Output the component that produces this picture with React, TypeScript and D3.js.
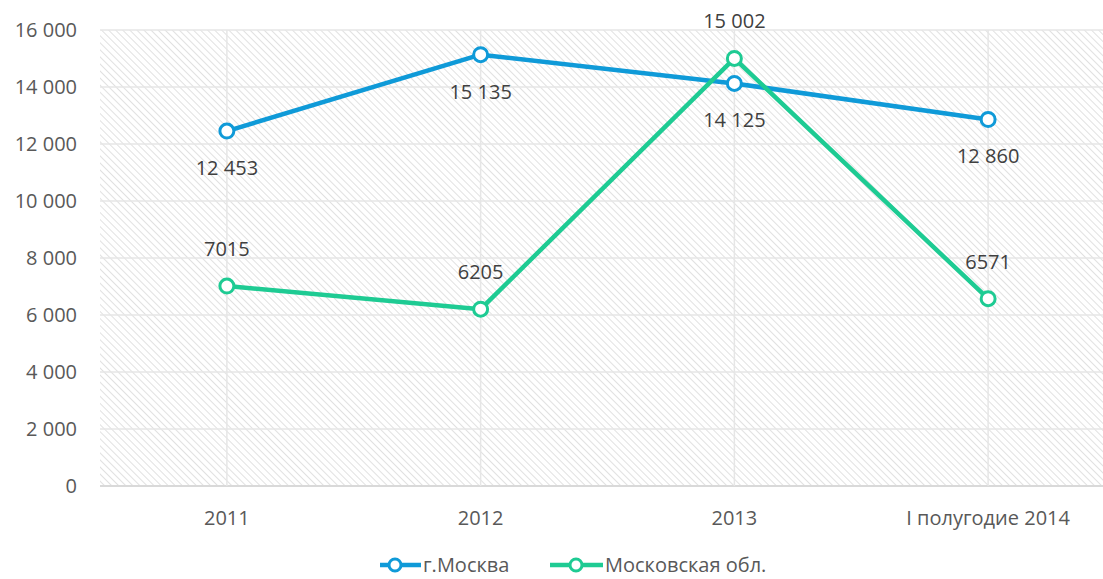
import React from "react";
import * as d3 from "d3";

const categories = ["2011", "2012", "2013", "I полугодие 2014"];
const moscow = [12453, 15135, 14125, 12860];
const oblast = [7015, 6205, 15002, 6571];
const yTicks = [0, 2000, 4000, 6000, 8000, 10000, 12000, 14000, 16000];
const seriesNames = ["г.Москва", "Московская обл."];
const colors = ["#0f9ad8", "#1ecb93"];

const W = 1103, H = 579;
const left = 100, right = 1115, top = 30, bottom = 486;
const FONT = "'Open Sans', 'Noto Sans', sans-serif";
const FS = 20;
const fmt = (v: number) => d3.format(",")(v).replace(/,/g, " ");

export default function App() {
  const x = d3.scaleBand().domain(categories).range([left, right]);
  const y = d3.scaleLinear().domain([0, 16000]).range([bottom, top]);
  const cx = (c: string) => (x(c) as number) + x.bandwidth() / 2;
  const line = d3.line<number>().x((_, i) => cx(categories[i])).y((v) => y(v));
  const series = [
    { name: seriesNames[0], data: moscow, color: colors[0], labelDy: 44, fmt: fmt },
    { name: seriesNames[1], data: oblast, color: colors[1], labelDy: -30, fmt: (v: number) => (v >= 10000 ? fmt(v) : String(v)) },
  ];
  const ly = 565;
  return (
    <svg width={W} height={H} style={{ position: "absolute", left: 0, top: 0, background: "#fff" }}>
      <defs>
        <pattern id="hatch" width="5" height="5" patternUnits="userSpaceOnUse" patternTransform="rotate(-45)">
          <rect width="5" height="5" fill="#ffffff" />
          <line x1="0" y1="0" x2="0" y2="5" stroke="#dedede" strokeWidth="1.8" />
        </pattern>
      </defs>
      <rect x={left} y={top} width={right - left} height={bottom - top} fill="url(#hatch)" />
      {yTicks.map((t) => (
        <g key={t}>
          <line x1={left} x2={right} y1={y(t)} y2={y(t)} stroke={t === 0 ? "#d9d9d9" : "#e6e6e6"} strokeWidth={t === 0 ? 2 : 1.5} />
          <text x={77} y={y(t)} dy="0.35em" textAnchor="end" fontFamily={FONT} fontSize={FS} fill="#595959">{fmt(t)}</text>
        </g>
      ))}
      {categories.map((c) => (
        <g key={c}>
          <line x1={cx(c)} x2={cx(c)} y1={top} y2={bottom} stroke="#e6e6e6" strokeWidth={1.5} />
          <text x={cx(c)} y={525} textAnchor="middle" fontFamily={FONT} fontSize={FS} fill="#595959">{c}</text>
        </g>
      ))}
      {series.map((s) => (
        <g key={s.name}>
          <path d={line(s.data) as string} fill="none" stroke={s.color} strokeWidth={4.5} strokeLinejoin="round" />
          {s.data.map((v, i) => (
            <circle key={i} cx={cx(categories[i])} cy={y(v)} r={7} fill="#fff" stroke={s.color} strokeWidth={3} />
          ))}
        </g>
      ))}
      {series.map((s) =>
        s.data.map((v, i) => (
          <text key={s.name + i} x={cx(categories[i])} y={y(v) + s.labelDy} textAnchor="middle" fontFamily={FONT} fontSize={FS} fill="#404040">
            {s.fmt(v)}
          </text>
        ))
      )}
      <g>
        <line x1={380} x2={421} y1={ly} y2={ly} stroke={colors[0]} strokeWidth={4.5} />
        <circle cx={395} cy={ly} r={6} fill="#fff" stroke={colors[0]} strokeWidth={3} />
        <text x={423} y={ly} dy="0.35em" fontFamily={FONT} fontSize={FS} fill="#595959">{seriesNames[0]}</text>
        <line x1={550} x2={603} y1={ly} y2={ly} stroke={colors[1]} strokeWidth={4.5} />
        <circle cx={576} cy={ly} r={6} fill="#fff" stroke={colors[1]} strokeWidth={3} />
        <text x={605} y={ly} dy="0.35em" fontFamily={FONT} fontSize={FS} fill="#595959">{seriesNames[1]}</text>
      </g>
    </svg>
  );
}
